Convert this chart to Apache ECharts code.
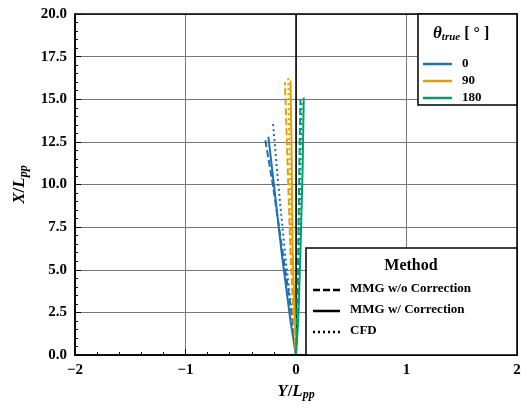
<!DOCTYPE html><html><head><meta charset="utf-8"><script src="https://cdn.jsdelivr.net/npm/echarts@6/dist/echarts.min.js"></script></head><body style="margin:0"><div id="c" style="width:527px;height:413px"></div><script>
const headings=['0','90','180'];
const colors=['#1f6fb2','#e69f00','#009e73'];
// [Y/Lpp, X/Lpp]
const blueDash=[[0,0],[-0.03,2],[-0.12,6],[-0.21,10],[-0.28,12.7]];
const blueSolid=[[0,0],[-0.05,2],[-0.13,6],[-0.2,10],[-0.25,12.8]];
const blueDot=[[0,0],[-0.03,2],[-0.1,6],[-0.16,10],[-0.21,13.7]];
const orangeDash=[[0,0],[-0.02,2],[-0.05,6],[-0.08,12],[-0.1,16.0]];
const orangeSolid=[[0,0],[-0.01,2],[-0.03,6],[-0.04,12],[-0.05,16.1]];
const orangeDot=[[0,0],[-0.02,2],[-0.04,6],[-0.06,12],[-0.07,16.3]];
const greenDash=[[0,0],[0.01,2],[0.02,6],[0.03,11],[0.04,15.0]];
const greenSolid=[[0,0],[0.02,2],[0.04,6],[0.06,11],[0.07,15.1]];
const greenDot=[[0,0],[0.01,2],[0.03,6],[0.04,11],[0.05,14.9]];
const xTicks=[-2,-1,0,1,2];
const F='Liberation Serif';
function s(d,c,t){return {type:'line',data:d,showSymbol:false,lineStyle:{color:c,width:2,type:t}}}
const series=[s(blueDash,colors[0],[7,3]),s(blueSolid,colors[0],'solid'),s(blueDot,colors[0],[2,3]),
s(orangeDash,colors[1],[7,3]),s(orangeSolid,colors[1],'solid'),s(orangeDot,colors[1],[2,3]),
s(greenDash,colors[2],[7,3]),s(greenSolid,colors[2],'solid'),s(greenDot,colors[2],[2,3])];
series.push({type:'line',data:[[0,0],[0,20]],showSymbol:false,lineStyle:{color:'#000',width:1.5},z:1});
const ax={axisLine:{show:true,onZero:false,lineStyle:{color:'#000',width:1.5}},axisTick:{inside:true,length:6,lineStyle:{color:'#000'}},minorTick:{show:true,splitNumber:5,length:3,lineStyle:{color:'#000'}},splitLine:{show:true,lineStyle:{color:'#777',width:1}},axisLabel:{fontFamily:F,fontSize:15,fontWeight:'bold',color:'#000'}};
const lg=[];
lg.push({type:'rect',shape:{x:418,y:14,width:99,height:91},style:{fill:'#fff',stroke:'#000',lineWidth:1.5},z:100});
lg.push({type:'text',x:433,y:24,style:{text:'{i|θ}{s|true}{n| [ ° ]}',rich:{i:{fontFamily:F,fontSize:17,fontStyle:'italic',fontWeight:'bold'},s:{fontFamily:F,fontSize:11,fontStyle:'italic',fontWeight:'bold',verticalAlign:'bottom',padding:[8,0,0,0]},n:{fontFamily:F,fontSize:16,fontWeight:'bold'}}},z:101});
headings.forEach((h,i)=>{const y=64+i*17;lg.push({type:'line',shape:{x1:423,y1:y,x2:452,y2:y},style:{stroke:colors[i],lineWidth:2.5},z:101});lg.push({type:'text',x:462,y:y-7,style:{text:h,fontFamily:F,fontSize:13,fontWeight:'bold'},z:101});});
lg.push({type:'rect',shape:{x:306,y:248,width:211,height:107},style:{fill:'#fff',stroke:'#000',lineWidth:1.5},z:100});
lg.push({type:'text',x:411,y:258,style:{text:'Method',fontFamily:F,fontSize:16,fontWeight:'bold',align:'center'},z:101});
[['MMG w/o Correction',[7,3]],['MMG w/ Correction','solid'],['CFD',[2,3]]].forEach((m,i)=>{const y=290+i*21;lg.push({type:'line',shape:{x1:313,y1:y,x2:340,y2:y},style:{stroke:'#000',lineWidth:2.5,lineDash:m[1]==='solid'?null:m[1]},z:101});lg.push({type:'text',x:350,y:y-8,style:{text:m[0],fontFamily:F,fontSize:13,fontWeight:'bold'},z:101});});
lg.push({type:'rect',shape:{x:75,y:14,width:442,height:341},style:{fill:'none',stroke:'#000',lineWidth:1.5},z:99,silent:true});
const rich={i:{fontFamily:F,fontSize:17,fontWeight:'bold',fontStyle:'italic'},n:{fontFamily:F,fontSize:17,fontWeight:'bold'},s:{fontFamily:F,fontSize:12,fontWeight:'bold',fontStyle:'italic',verticalAlign:'bottom',padding:[8,0,0,0]}};
const ch=echarts.init(document.getElementById('c'));
ch.setOption({animation:false,grid:{left:75,right:10,top:14,bottom:58},
xAxis:Object.assign({type:'value',min:-2,max:2,interval:1,name:'{i|Y}{n|/}{i|L}{s|pp}',nameLocation:'middle',nameGap:25,nameTextStyle:{rich:rich},axisLabel:Object.assign({},ax.axisLabel,{formatter:v=>xTicks.includes(v)?String(v).replace('-','−'):''})},{axisLine:ax.axisLine,axisTick:ax.axisTick,minorTick:ax.minorTick,splitLine:ax.splitLine}),
yAxis:Object.assign({type:'value',min:0,max:20,interval:2.5,name:'{i|X}{n|/}{i|L}{s|pp}',nameLocation:'middle',nameGap:44,nameRotate:90,nameTextStyle:{rich:rich},axisLabel:Object.assign({},ax.axisLabel,{formatter:v=>v.toFixed(1)})},{axisLine:ax.axisLine,axisTick:ax.axisTick,minorTick:ax.minorTick,splitLine:ax.splitLine}),
series:series,graphic:lg});
</script></body></html>
